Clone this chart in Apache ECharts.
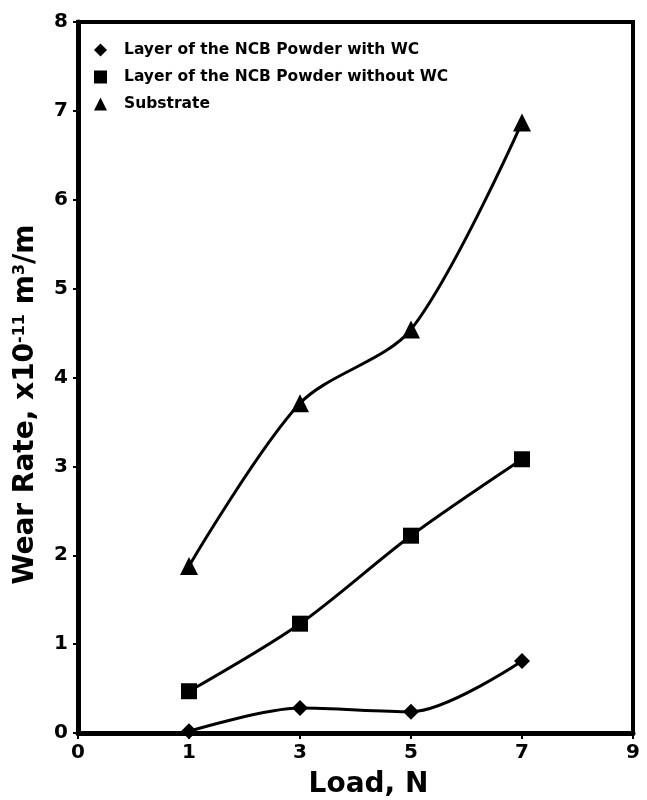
<!DOCTYPE html>
<html><head><meta charset="utf-8">
<script src="https://cdn.jsdelivr.net/npm/echarts@6/dist/echarts.min.js"></script>
<style>html,body{margin:0;padding:0;background:#fff}#c{width:647px;height:800px}</style>
</head><body><div id="c"></div>
<script>
const xCategories = ['0','1','3','5','7','9'];
const loads = ['1','3','5','7'];
const withWC = [0.02, 0.28, 0.24, 0.81];
const withoutWC = [0.47, 1.23, 2.22, 3.08];
const substrate = [1.88, 3.71, 4.54, 6.87];
const seriesNames = ['Layer of the NCB Powder with WC','Layer of the NCB Powder without WC','Substrate'];
const symbols = ['diamond','rect','triangle'];
const symbolSizes = [16, 16, 18];

const chart = echarts.init(document.getElementById('c'));
const font = '"DejaVu Sans", "Liberation Sans", Arial, sans-serif';
function pairs(vals){ return loads.map((l,i)=>[l, vals[i]]); }
const allVals = [withWC, withoutWC, substrate];
chart.setOption({
  backgroundColor:'#fff',
  animation:false,
  grid:{left:78,right:14,top:22,bottom:67,show:true,borderColor:'#000',borderWidth:4,containLabel:false,outerBoundsMode:'none'},
  legend:{
    orient:'vertical', left:89, top:37, itemGap:11, itemWidth:13, itemHeight:13,
    textStyle:{fontFamily:font,fontWeight:'bold',fontSize:15.5,color:'#000',padding:[0,0,0,12]},
    data: seriesNames.map((n,i)=>({name:n, icon:symbols[i], itemStyle:{color:'#000'}}))
  },
  xAxis:{
    type:'category', data:xCategories, boundaryGap:false,
    name:'Load, N', nameLocation:'middle', nameGap:38,
    nameTextStyle:{fontFamily:font,fontWeight:'bold',fontSize:28,color:'#000',padding:[0,0,0,26]},
    axisLine:{lineStyle:{color:'#000',width:5}},
    axisTick:{show:true,length:6,lineStyle:{color:'#000',width:2},alignWithLabel:true},
    axisLabel:{fontFamily:font,fontWeight:'bold',fontSize:20,color:'#000',margin:10},
    splitLine:{show:false}
  },
  yAxis:{
    type:'value', min:0, max:8, interval:1,
    name:'{a|Wear Rate, x10}{s|-11}{a| m}{s|3}{a|/m}', nameLocation:'middle', nameGap:38,
    nameTextStyle:{padding:[0,54,0,0],rich:{
      a:{fontFamily:font,fontWeight:'bold',fontSize:28,color:'#000'},
      s:{fontFamily:font,fontWeight:'bold',fontSize:16,color:'#000',verticalAlign:'top',padding:[0,0,12,0]}
    }},
    axisLine:{show:true,lineStyle:{color:'#000',width:5}},
    axisTick:{show:true,length:5,lineStyle:{color:'#000',width:2}},
    axisLabel:{fontFamily:font,fontWeight:'bold',fontSize:20,color:'#000',margin:10},
    splitLine:{show:false}
  },
  series: seriesNames.map((n,i)=>({
    name:n, type:'line', data:pairs(allVals[i]), smooth:0.3,
    symbol:symbols[i], symbolSize:symbolSizes[i],
    lineStyle:{color:'#000',width:3}, itemStyle:{color:'#000'}
  }))
});
</script></body></html>
